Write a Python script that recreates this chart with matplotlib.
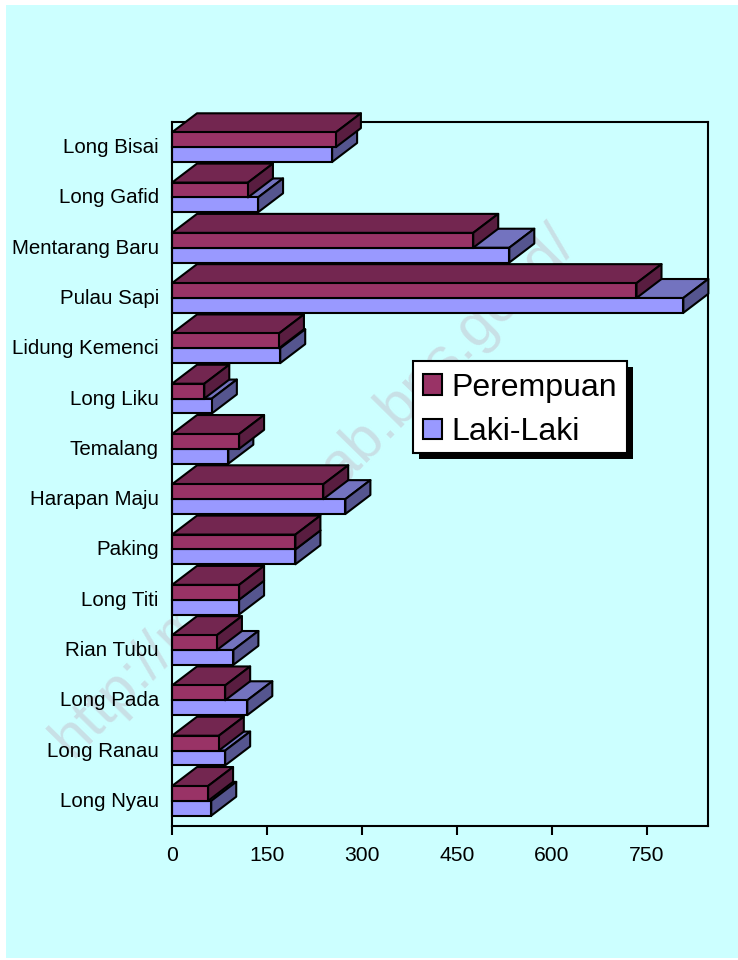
import matplotlib
matplotlib.use("Agg")
import matplotlib.pyplot as plt
from matplotlib.patches import Polygon, Rectangle, Patch
from matplotlib.transforms import ScaledTranslation

plt.rcParams['font.family'] = ['Liberation Sans', 'DejaVu Sans']

categories = ['Long Bisai', 'Long Gafid', 'Mentarang Baru', 'Pulau Sapi',
              'Lidung Kemenci', 'Long Liku', 'Temalang', 'Harapan Maju',
              'Paking', 'Long Titi', 'Rian Tubu', 'Long Pada', 'Long Ranau',
              'Long Nyau']
perempuan = [259, 120, 476, 734, 169, 51, 106, 239, 195, 106, 71, 84, 74, 57]
laki_laki = [253, 136, 533, 808, 171, 63, 89, 274, 195, 106, 97, 119, 84, 62]
xticks = [0, 150, 300, 450, 600, 750]

W, H = 738, 960
LEFT, RIGHT, TOP, BOTTOM = 172, 708, 122, 826
XMAX = 847

RED = ('#993366', '#732650', '#591D40')
BLUE = ('#9999FF', '#7373BF', '#55558F')
LW = 1.5

fig = plt.figure(figsize=(W / 100, H / 100), dpi=100, facecolor='white')
fig.patches.append(Rectangle((6 / W, 2 / H), (W - 6) / W, (H - 7) / H, transform=fig.transFigure,
                             facecolor='#CCFFFF', edgecolor='none', zorder=-2))
fig.text(314 / W, 1 - 491 / H, 'http://malinaukab.bps.go.id/', fontsize=42.4, color='#C8E0E6',
         rotation=45.5, ha='center', va='center', rotation_mode='anchor', zorder=-1)

ax = fig.add_axes([LEFT / W, 1 - BOTTOM / H, (RIGHT - LEFT) / W, (BOTTOM - TOP) / H])
ax.patch.set_visible(False)
ax.set_xlim(0, XMAX)
ax.set_ylim(len(categories) - 0.5, -0.5)

# depth of the fake 3d boxes, 25px right and 19px up, in data units
dx = 25 * XMAX / (RIGHT - LEFT)
dy = 19 * len(categories) / (BOTTOM - TOP)
bar_h = 0.295


def draw_box(y, value, colors, z):
    top = y - bar_h / 2
    bottom = y + bar_h / 2
    ax.add_patch(Polygon([(0, top), (dx, top - dy), (value + dx, top - dy), (value, top)],
                         facecolor=colors[1], edgecolor='black', lw=LW, zorder=z,
                         clip_on=False, joinstyle='round'))
    ax.add_patch(Polygon([(value, top), (value + dx, top - dy), (value + dx, bottom - dy), (value, bottom)],
                         facecolor=colors[2], edgecolor='black', lw=LW, zorder=z,
                         clip_on=False, joinstyle='round'))
    ax.barh(y, value, height=bar_h, color=colors[0], edgecolor='black', lw=LW, zorder=z,
            clip_on=False)


z = 3
for i in range(len(categories)):
    draw_box(i + bar_h / 2, laki_laki[i], BLUE, z)
    draw_box(i - bar_h / 2, perempuan[i], RED, z + 1)
    z += 2

for s in ax.spines.values():
    s.set_linewidth(LW)
    s.set_zorder(1)
ax.spines['left'].set_zorder(100)
ax.spines['bottom'].set_zorder(100)

ax.set_xticks(xticks)
ax.set_yticks(range(len(categories)))
ax.set_yticklabels(categories)
ax.tick_params(axis='x', length=6.5, width=LW, labelsize=15.2, pad=8)
ax.tick_params(axis='y', length=0, labelsize=14.8, pad=9.5)
for lbl in ax.get_yticklabels():
    lbl.set_transform(lbl.get_transform() + ScaledTranslation(0, 1.5 / 100, fig.dpi_scale_trans))

# legend box and hard black shadow drawn by hand, legend itself has no frame
ax.add_patch(Rectangle((419, H - 459), 214, 92, transform=None, facecolor='black',
                       edgecolor='none', zorder=200, clip_on=False))
ax.add_patch(Rectangle((413, H - 453), 214, 92, transform=None, facecolor='white',
                       edgecolor='black', lw=LW, zorder=201, clip_on=False))
leg = ax.legend(handles=[Patch(facecolor=RED[0], edgecolor='black', lw=LW, label='Perempuan'),
                         Patch(facecolor=BLUE[0], edgecolor='black', lw=LW, label='Laki-Laki')],
                loc='center', bbox_to_anchor=(520 / W, 1 - 410 / H),
                bbox_transform=fig.transFigure, fontsize=23, frameon=False,
                handlelength=0.6, handleheight=0.6, handletextpad=0.28,
                labelspacing=0.45, borderpad=0.28, borderaxespad=0)
leg.set_zorder(202)

fig.savefig('out.png', dpi=100)
